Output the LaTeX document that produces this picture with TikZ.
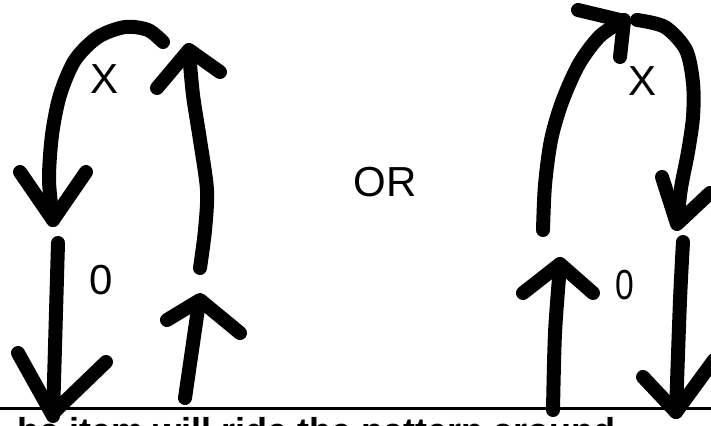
\documentclass[tikz,border=0pt]{standalone}
\usepackage{fontspec}
\setmainfont{Liberation Sans}
\begin{document}
\begin{tikzpicture}[x=1pt,y=-1pt,
  pen/.style={line width=14pt,line cap=round,line join=round},
  lbl/.style={font=\fontsize{42}{42}\selectfont, inner sep=0pt}]
\useasboundingbox (0,0) rectangle (711,425);
\clip (0,0) rectangle (711,425);
\fill[white] (0,0) rectangle (711,425);
% cut-off caption and rule
\node[anchor=base west, inner sep=0pt, font=\bfseries\fontsize{36}{36}\selectfont] (caption) at (17,443) {he item will ride the pattern around};
\coordinate (ruleL) at (0,408);
\coordinate (ruleR) at (711,408);
\draw[line width=3pt] (ruleL) -- (ruleR);
% labels
\node[lbl] (xl) at (105,79) {X};
\node[lbl] (zl) at (101,280) {0};
\node[lbl] (or) at (385,182) {OR};
\node[lbl] (xr) at (642,81) {X};
\node[lbl, xscale=0.8] (zr) at (625,285) {0};
% left figure
\draw[pen] plot[smooth] coordinates {(163,42) (148,30) (125,27) (98,37) (75,60) (60,95) (52,135) (49,180) (53,220)};
\draw[pen] (20,172) -- (53,220) -- (86,172);
\draw[pen] (58,243) -- (53,416);
\draw[pen] (18,353) -- (52,414) -- (106,362);
\draw[pen] plot[smooth] coordinates {(200,268) (205,230) (207,190) (200,140) (193,95) (189,52)};
\draw[pen] (157,88) -- (189,50) -- (220,72);
\draw[pen] (185,398) -- (199,302);
\draw[pen] (167,320) -- (200,300) -- (240,333);
% right figure
\draw[pen] plot[smooth] coordinates {(543,230) (545,185) (551,140) (562,102) (579,64) (600,36) (624,20)};
\draw[pen] (578,10) -- (624,21) -- (620,57);
\draw[pen] plot[smooth] coordinates {(637,20) (665,27) (686,50) (693,83) (693,117) (688,152) (681,188) (677,223)};
\draw[pen] (662,177) -- (677,224) -- (710,193);
\draw[pen] plot[smooth] coordinates {(683,242) (680,300) (676,412)};
\draw[pen] (643,377) -- (676,412) -- (714,360);
\draw[pen] plot[smooth] coordinates {(553,410) (555,333) (560,266)};
\draw[pen] (523,293) -- (560,264) -- (593,293);
\end{tikzpicture}
\end{document}
